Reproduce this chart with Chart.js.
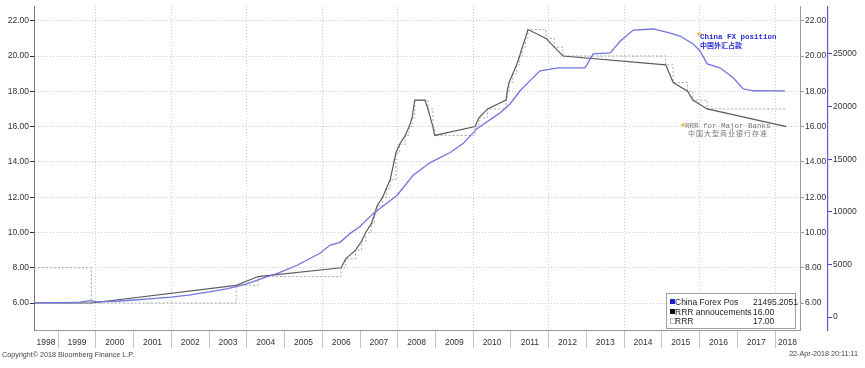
<!DOCTYPE html>
<html>
<head>
<meta charset="utf-8">
<script src="https://cdn.jsdelivr.net/npm/chart.js@4.4.1/dist/chart.umd.min.js"></script>
<style>
  html, body { margin: 0; padding: 0; background: #fff; }
  #wrap { position: relative; width: 865px; height: 368px; overflow: hidden; }
  #chart { position: absolute; left: 0; top: 0; }
  .note { position: absolute; font-family: "Liberation Mono", "DejaVu Sans Mono", monospace; font-size: 7.5px; line-height: 8px; white-space: nowrap; }
  .cjk { font-family: "Noto Sans CJK SC", sans-serif; font-size: 7px; }
  .dot { position: absolute; width: 4px; height: 4px; border-radius: 2px; background: #f0c466; }
  #legend { position: absolute; left: 666px; top: 293px; width: 128px; height: 34px; border: 1px solid #a0a0a0; background: #fff;
            font-family: "Liberation Sans", Arial, sans-serif; font-size: 8.5px; color: #222; }
  #legend .row { position: absolute; left: 0; height: 10px; line-height: 10px; white-space: nowrap; }
  #legend .sq { position: absolute; left: 3px; top: 2px; width: 5px; height: 5px; }
  #legend .name { position: absolute; left: 8px; }
  #legend .val { position: absolute; left: 86px; }
  .foot { position: absolute; font-family: "Liberation Sans", Arial, sans-serif; font-size: 7.2px; color: #444; white-space: nowrap; }
</style>
</head>
<body>
<div id="wrap">
  <canvas id="chart" width="865" height="368"></canvas>
  <div class="dot" style="left:697px; top:32px;"></div>
  <div class="note" style="left:700px; top:33px; color:#2b2bd6; font-weight:bold;">China FX position</div>
  <div class="note cjk" style="left:700px; top:41px; color:#2b2bd6; font-weight:bold;">中国外汇占款</div>
  <div class="dot" style="left:681px; top:123px;"></div>
  <div class="note" style="left:685px; top:122px; color:#777;">RRR for Major Banks</div>
  <div class="note cjk" style="left:688px; top:129px; color:#777; letter-spacing:1px;">中国大型商业银行存准</div>
  <div id="legend"></div>
  <div class="foot" style="left:2px; top:350px;">Copyright© 2018 Bloomberg Finance L.P.</div>
  <div class="foot" style="right:7px; top:349px;">22-Apr-2018 20:11:11</div>
</div>
<script>
const yearLabels = ['1998', '1999', '2000', '2001', '2002', '2003', '2004', '2005', '2006', '2007',
  '2008', '2009', '2010', '2011', '2012', '2013', '2014', '2015', '2016', '2017', '2018'];
const xMin = 1998.36;
const xMax = 2018.66;

// China FX position (outer right axis)
const fxDates = [1998.36, 1999.0, 1999.5, 1999.85, 2000.0, 2000.5, 2001.0, 2001.5, 2002.0, 2002.5,
  2003.0, 2003.5, 2004.0, 2004.5, 2004.83, 2005.33, 2005.94, 2006.2, 2006.47, 2006.74, 2007.0,
  2007.35, 2007.98, 2008.4, 2008.86, 2009.39, 2009.73, 2010.1, 2010.71, 2010.98, 2011.24, 2011.5,
  2011.77, 2012.25, 2012.96, 2013.18, 2013.63, 2013.9, 2014.24, 2014.77, 2015.2, 2015.48, 2015.83,
  2016.01, 2016.2, 2016.54, 2016.89, 2017.15, 2017.42, 2018.26];
const fxValues = [1350, 1370, 1380, 1560, 1450, 1500, 1620, 1750, 1900, 2100,
  2400, 2700, 3150, 3800, 4170, 4920, 6060, 6820, 7100, 7950, 8600,
  9850, 11550, 13450, 14680, 15630, 16480, 17900, 19400, 20270, 21500, 22440,
  23390, 23680, 23680, 25000, 25100, 26230, 27270, 27370, 27000, 26700, 25950,
  25280, 24050, 23680, 22730, 21690, 21500, 21495.2051];

// RRR announcements (left axis)
const annDates = [1998.36, 1999.88, 2003.72, 2004.3, 2006.5, 2006.62, 2006.88, 2007.04, 2007.15, 2007.3,
  2007.38, 2007.45, 2007.6, 2007.7, 2007.8, 2007.95, 2008.05, 2008.2, 2008.3, 2008.38, 2008.45,
  2008.72, 2008.8, 2008.93, 2008.98, 2010.05, 2010.15, 2010.38, 2010.87, 2010.9, 2010.95, 2011.05,
  2011.15, 2011.23, 2011.3, 2011.38, 2011.45, 2011.93, 2012.15, 2012.38, 2015.1, 2015.3, 2015.68,
  2015.82, 2016.2, 2018.3];
const annValues = [6.0, 6.0, 7.0, 7.5, 8.0, 8.5, 9.0, 9.5, 10.0, 10.5,
  11.0, 11.5, 12.0, 12.5, 13.0, 14.5, 15.0, 15.5, 16.0, 16.5, 17.5,
  17.5, 17.0, 16.0, 15.5, 16.0, 16.5, 17.0, 17.5, 18.0, 18.5, 19.0,
  19.5, 20.0, 20.5, 21.0, 21.5, 21.0, 20.5, 20.0, 19.5, 18.5, 18.0,
  17.5, 17.0, 16.0];

// RRR (stepped, left axis)
const rrrDates = [1998.36, 1999.88, 2003.72, 2004.3, 2006.5, 2006.62, 2006.88, 2007.04, 2007.15, 2007.3,
  2007.38, 2007.45, 2007.6, 2007.7, 2007.8, 2007.95, 2008.05, 2008.2, 2008.3, 2008.38, 2008.45,
  2008.8, 2008.93, 2008.98, 2010.05, 2010.15, 2010.38, 2010.87, 2010.9, 2010.95, 2011.05,
  2011.15, 2011.23, 2011.3, 2011.38, 2011.45, 2011.93, 2012.15, 2012.38, 2015.1, 2015.3, 2015.68,
  2015.82, 2016.2, 2018.3];
const rrrValues = [8.0, 6.0, 7.0, 7.5, 8.0, 8.5, 9.0, 9.5, 10.0, 10.5,
  11.0, 11.5, 12.0, 12.5, 13.0, 14.5, 15.0, 15.5, 16.0, 16.5, 17.5,
  17.0, 16.0, 15.5, 16.0, 16.5, 17.0, 17.5, 18.0, 18.5, 19.0,
  19.5, 20.0, 20.5, 21.0, 21.5, 21.0, 20.5, 20.0, 19.5, 18.5, 18.0,
  17.5, 17.0, 17.0];

const rrrTicks = [6, 8, 10, 12, 14, 16, 18, 20, 22];
const fxTicks = [0, 5000, 10000, 15000, 20000, 25000];

const blue = '#7373e3';
const annColor = '#5c5c5c';
const rrrColor = '#a9a9a9';
const gridColor = '#c9c9c9';
const font = { family: '"Liberation Sans", Arial, sans-serif', size: 8.5 };

const pts = (xs, ys) => xs.map((x, i) => ({ x: x, y: ys[i] }));

const boundaries = yearLabels.slice(1).map(Number);
const labelPos = yearLabels.map(y => (Math.max(+y, xMin) + Math.min(+y + 1, xMax)) / 2);
const isBoundary = v => Number.isInteger(v);

new Chart(document.getElementById('chart'), {
  type: 'line',
  data: {
    datasets: [
      { label: 'China Forex Pos', data: pts(fxDates, fxValues), yAxisID: 'yFx',
        borderColor: blue, borderWidth: 1.3, pointRadius: 0 },
      { label: 'RRR annoucements', data: pts(annDates, annValues), yAxisID: 'y',
        borderColor: annColor, borderWidth: 1.2, pointRadius: 0 },
      { label: 'RRR', data: pts(rrrDates, rrrValues), yAxisID: 'y', stepped: true,
        borderColor: rrrColor, borderWidth: 1, borderDash: [2, 2], pointRadius: 0 }
    ]
  },
  options: {
    responsive: false,
    animation: false,
    layout: { padding: { top: 5, left: 0, right: 0, bottom: 0 } },
    plugins: { legend: { display: false }, tooltip: { enabled: false } },
    scales: {
      x: {
        type: 'linear', min: xMin, max: xMax,
        afterBuildTicks: s => {
          s.ticks = boundaries.concat(labelPos).sort((a, b) => a - b).map(v => ({ value: v }));
        },
        afterFit: s => { s.height = 38; },
        ticks: {
          autoSkip: false, maxRotation: 0, padding: -10, color: '#333', font: font,
          callback: v => {
            if (isBoundary(v)) return '';
            const i = labelPos.indexOf(v);
            return i >= 0 ? yearLabels[i] : '';
          }
        },
        grid: {
          tickLength: 18, tickBorderDash: [],
          color: c => (c.tick && isBoundary(c.tick.value) && c.tick.value % 2 === 0) ? gridColor : 'rgba(0,0,0,0)',
          tickColor: c => (c.tick && isBoundary(c.tick.value)) ? '#c4c4c4' : 'rgba(0,0,0,0)'
        },
        border: { color: '#9a9a9a', dash: [1, 2] }
      },
      y: {
        position: 'left', min: 4.47, max: 22.83,
        afterBuildTicks: s => { s.ticks = rrrTicks.map(v => ({ value: v })); },
        afterFit: s => { s.width = 34; },
        ticks: { padding: 1, color: '#333', font: font, callback: v => v.toFixed(2) },
        grid: { color: gridColor, tickLength: 4, tickColor: '#333', tickBorderDash: [] },
        border: { color: '#777', dash: [1, 2] }
      },
      y1: {
        position: 'right', min: 4.47, max: 22.83, weight: 0,
        afterBuildTicks: s => { s.ticks = rrrTicks.map(v => ({ value: v })); },
        afterFit: s => { s.width = 28; },
        ticks: { padding: 1, color: '#333', font: font, callback: v => v.toFixed(2) },
        grid: { drawOnChartArea: false, tickLength: 4, tickColor: '#999' },
        border: { color: '#9a9a9a' }
      },
      yFx: {
        position: 'right', min: -1231, max: 29545, weight: 1,
        afterBuildTicks: s => { s.ticks = fxTicks.map(v => ({ value: v })); },
        afterFit: s => { s.width = 37; },
        ticks: { padding: 1, color: '#333', font: font, callback: v => String(v) },
        grid: { drawOnChartArea: false, tickLength: 4, tickColor: '#3c3cc8' },
        border: { color: '#5d5dd2', width: 1.2 }
      }
    }
  }
});

// legend box with last values
const legendRows = [
  { name: 'China Forex Pos', value: fxValues[fxValues.length - 1].toFixed(4), sq: 'background:#1e1ed2;' },
  { name: 'RRR annoucements', value: annValues[annValues.length - 1].toFixed(2), sq: 'background:#111;' },
  { name: 'RRR', value: rrrValues[rrrValues.length - 1].toFixed(2), sq: 'background:#fff; border:1px solid #bbb; width:4px; height:4px;' }
];
document.getElementById('legend').innerHTML = legendRows.map((r, i) =>
  '<div class="row" style="top:' + (3 + i * 9.5) + 'px; width:128px;">' +
  '<span class="sq" style="' + r.sq + '"></span>' +
  '<span class="name">' + r.name + '</span>' +
  '<span class="val">' + r.value + '</span></div>').join('');
</script>
</body>
</html>
